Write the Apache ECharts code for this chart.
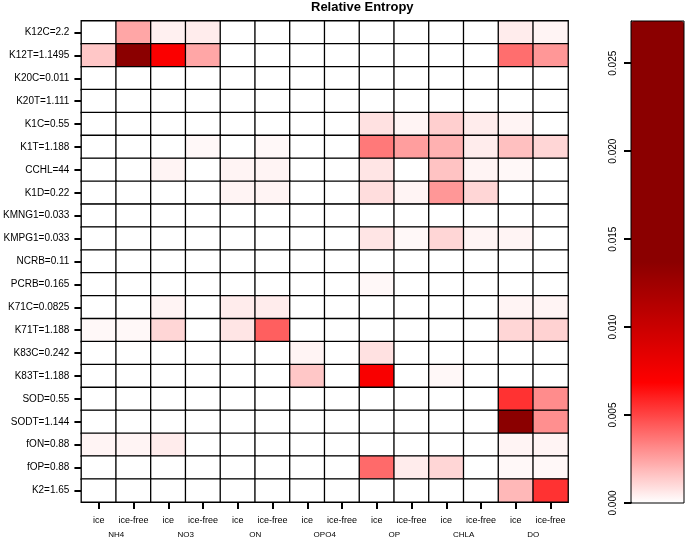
<!DOCTYPE html>
<html>
<head>
<meta charset="utf-8">
<script src="https://cdn.jsdelivr.net/npm/echarts@6/dist/echarts.min.js"></script>
<style>
  html, body { margin: 0; padding: 0; background: #fff; }
  #chart { width: 685px; height: 539px; }
</style>
</head>
<body>
<div id="chart"></div>
<script>
// parameter rows, top to bottom
var rowLabels = ['K12C=2.2', 'K12T=1.1495', 'K20C=0.011', 'K20T=1.111', 'K1C=0.55', 'K1T=1.188',
  'CCHL=44', 'K1D=0.22', 'KMNG1=0.033', 'KMPG1=0.033', 'NCRB=0.11', 'PCRB=0.165',
  'K71C=0.0825', 'K71T=1.188', 'K83C=0.242', 'K83T=1.188', 'SOD=0.55', 'SODT=1.144',
  'fON=0.88', 'fOP=0.88', 'K2=1.65']
var colLabels = ['ice', 'ice-free', 'ice', 'ice-free', 'ice', 'ice-free', 'ice', 'ice-free',
  'ice', 'ice-free', 'ice', 'ice-free', 'ice', 'ice-free']
var groups = ['NH4', 'NO3', 'ON', 'OPO4', 'OP', 'CHLA', 'DO']
var colorTicks = [0, 0.005, 0.01, 0.015, 0.02, 0.025]
var maxEntropy = 0.0274

// relative entropy, one row per parameter, columns as colLabels
var entropy = [
  [0, 0.0024, 0.0004, 0.0005, 0, 0, 0, 0, 0, 0, 0, 0, 0.0005, 0.0003],
  [0.0015, 0.0274, 0.0071, 0.0024, 0, 0, 0, 0, 0, 0, 0, 0, 0.0039, 0.0028],
  [0, 0, 0, 0, 0, 0, 0, 0, 0, 0, 0, 0, 0, 0],
  [0, 0, 0, 0, 0, 0, 0, 0, 0, 0, 0, 0, 0, 0],
  [0, 0, 0, 0, 0, 0, 0, 0, 0.0008, 0.0003, 0.0013, 0.0005, 0.0003, 0],
  [0, 0, 0, 0.0002, 0, 0.0002, 0, 0, 0.0036, 0.0026, 0.0021, 0.0005, 0.0017, 0.0011],
  [0, 0, 0.0003, 0, 0.0003, 0.0003, 0, 0, 0.0007, 0, 0.0016, 0.0003, 0.0002, 0],
  [0, 0, 0, 0, 0.0003, 0.0003, 0, 0, 0.0009, 0.0003, 0.0028, 0.0011, 0, 0],
  [0, 0, 0, 0, 0, 0, 0, 0, 0, 0, 0, 0, 0, 0],
  [0, 0, 0, 0, 0, 0, 0, 0, 0.0007, 0.0002, 0.0011, 0.0003, 0.0003, 0],
  [0, 0, 0, 0, 0, 0, 0, 0, 0, 0, 0, 0, 0, 0],
  [0, 0, 0, 0, 0, 0, 0, 0, 0.0002, 0, 0, 0, 0, 0],
  [0, 0, 0.0003, 0, 0.0005, 0.0005, 0, 0, 0, 0, 0, 0, 0.0003, 0.0003],
  [0.0002, 0.0002, 0.0011, 0, 0.0007, 0.0043, 0, 0, 0, 0, 0, 0, 0.0011, 0.0012],
  [0, 0, 0, 0, 0, 0, 0.0003, 0, 0.0008, 0, 0, 0, 0, 0],
  [0, 0, 0, 0, 0, 0, 0.0015, 0, 0.0072, 0, 0.0002, 0, 0, 0],
  [0, 0, 0, 0, 0, 0, 0, 0, 0, 0, 0, 0, 0.0055, 0.0031],
  [0, 0, 0, 0, 0, 0, 0, 0, 0, 0, 0, 0, 0.0200, 0.0030],
  [0.0003, 0.0003, 0.0005, 0, 0, 0, 0, 0, 0, 0, 0, 0, 0.0003, 0.0003],
  [0, 0, 0, 0, 0, 0, 0, 0, 0.0040, 0.0005, 0.0011, 0, 0.0002, 0.0002],
  [0, 0, 0, 0, 0, 0, 0, 0, 0, 0, 0, 0, 0.0019, 0.0055]
]

var cells = []
entropy.forEach(function (row, r) {
  row.forEach(function (v, c) {
    cells.push([c, r, v])
  })
})

var font = 'Liberation Sans'
var tickStyle = { color: '#000', width: 2 }
var chart = echarts.init(document.getElementById('chart'))
chart.setOption({
  animation: false,
  title: {
    text: 'Relative Entropy',
    left: 311,
    top: 1,
    textStyle: { fontFamily: font, fontSize: 13, fontWeight: 'bold', color: '#000' },
    padding: 0
  },
  grid: [
    { left: 79, top: 21, width: 489, height: 482 },
    {
      left: 631, top: 21, width: 53, height: 482, show: true, z: 10,
      backgroundColor: 'transparent', borderColor: '#000', borderWidth: 1
    }
  ],
  xAxis: [
    {
      type: 'category', gridIndex: 0, data: colLabels,
      axisTick: { show: true, alignWithLabel: true, length: 7, lineStyle: tickStyle },
      axisLine: { show: true, lineStyle: { color: '#000' } },
      axisLabel: { interval: 0, margin: 14, fontFamily: font, fontSize: 9, color: '#000' }
    },
    {
      type: 'category', gridIndex: 0, data: groups, position: 'bottom',
      axisLine: { show: false }, axisTick: { show: false },
      axisLabel: { interval: 0, margin: 29, fontFamily: font, fontSize: 8, color: '#000' }
    },
    {
      type: 'value', gridIndex: 1, show: false, min: 0, max: 1
    }
  ],
  yAxis: [
    {
      type: 'category', gridIndex: 0, data: rowLabels, inverse: true,
      axisTick: { show: true, alignWithLabel: true, length: 7, lineStyle: tickStyle },
      axisLine: { show: true, lineStyle: { color: '#000' } },
      axisLabel: { interval: 0, margin: 12, fontFamily: font, fontSize: 10, color: '#000' }
    },
    {
      type: 'value', gridIndex: 1, min: 0, max: maxEntropy, interval: 0.005,
      axisTick: { show: true, length: 7, lineStyle: tickStyle },
      axisLine: { show: true, lineStyle: { color: '#000' } },
      axisLabel: {
        rotate: 90, margin: 13, showMaxLabel: false,
        fontFamily: font, fontSize: 10, color: '#000',
        formatter: function (v) { return colorTicks.indexOf(Math.round(v * 1000) / 1000) >= 0 ? v.toFixed(3) : '' }
      },
      splitLine: { show: false }
    }
  ],
  visualMap: {
    type: 'continuous',
    min: 0,
    max: maxEntropy,
    seriesIndex: 0,
    calculable: false,
    hoverLink: false,
    left: 631,
    top: 21,
    padding: 0,
    itemWidth: 53,
    itemHeight: 482,
    text: null,
    inRange: { color: ['#ffffff', '#ff0000', '#8b0000', '#8b0000', '#8b0000'] }
  },
  series: [
    {
      type: 'heatmap',
      xAxisIndex: 0,
      yAxisIndex: 0,
      data: cells,
      itemStyle: { borderColor: '#000', borderWidth: 1.3 },
      emphasis: { disabled: true }
    }
  ]
})
</script>
</body>
</html>
